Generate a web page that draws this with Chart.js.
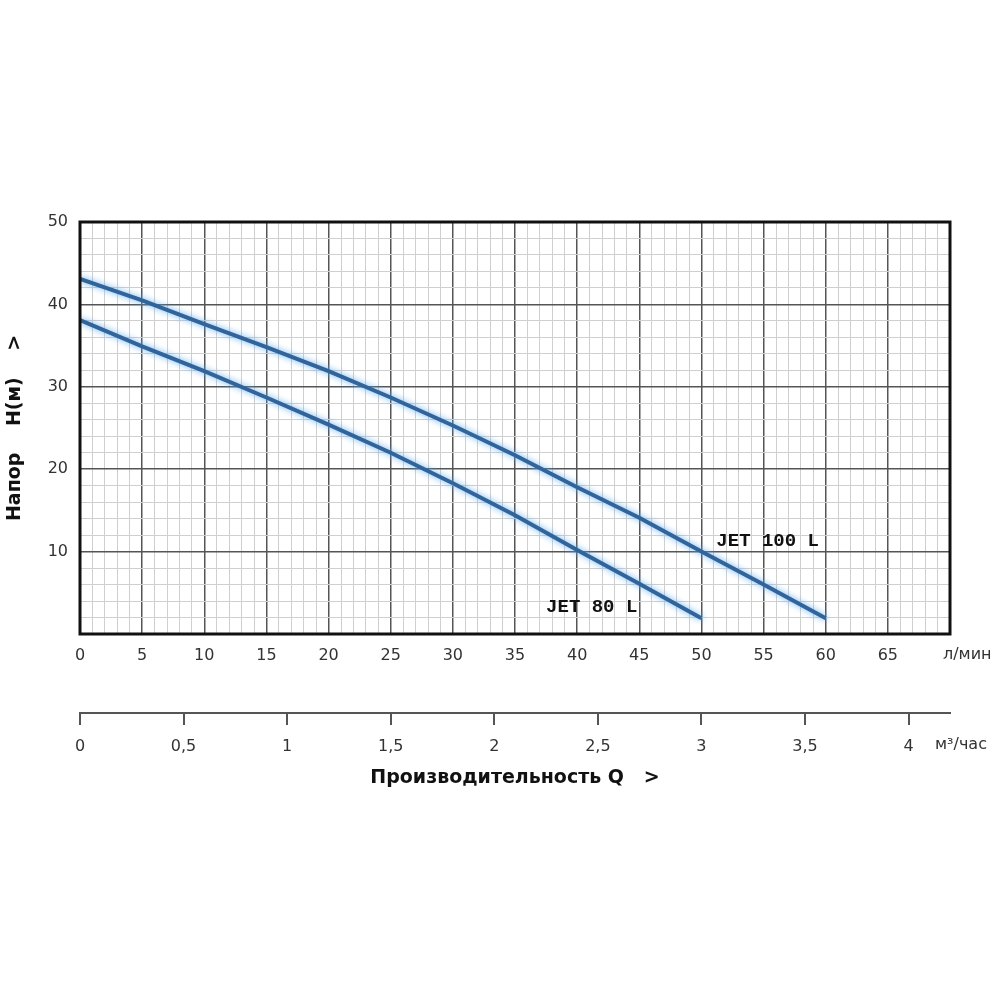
<!DOCTYPE html>
<html>
<head>
<meta charset="utf-8">
<title>JET pump curves</title>
<script src="https://cdn.jsdelivr.net/npm/chart.js@4/dist/chart.umd.min.js"></script>
<style>
  html, body { margin: 0; padding: 0; background: #fff; }
  #wrap { width: 1000px; height: 1000px; position: relative; }
</style>
</head>
<body>
<div id="wrap"><canvas id="pumpChart"></canvas></div>
<script>
// flow in l/min, head in metres
const flow100 = [0, 5, 10, 15, 20, 25, 30, 35, 40, 45, 50, 55, 60];
const head100 = [43.1, 40.5, 37.6, 34.8, 31.9, 28.7, 25.3, 21.7, 17.8, 14.1, 10.0, 6.0, 1.9];
const flow80 = [0, 5, 10, 15, 20, 25, 30, 35, 40, 45, 50];
const head80 = [38.1, 34.9, 31.9, 28.7, 25.4, 22.0, 18.3, 14.4, 10.2, 6.1, 1.9];

const seriesNames = ["JET 100 L", "JET 80 L"];
const unitFlow = "л/мин";
const unitVolume = "м³/час";
const yTitle = "Напор    H(м)    >";
const xTitle = "Производительность Q   >";

const lineColor = "#30649a";
const tickFont = { family: "DejaVu Sans", size: 16 };

function toPoints(xs, ys) {
    return xs.map((x, i) => ({ x: x, y: ys[i] }));
}

// light blue glow round the curves, like the blurred gif
const glowPlugin = {
    id: "glow",
    beforeDatasetsDraw(chart) {
        chart.ctx.save();
        chart.ctx.shadowColor = "rgba(90,170,240,0.95)";
        chart.ctx.shadowBlur = 6;
    },
    afterDatasetsDraw(chart) {
        chart.ctx.restore();
    }
};

// frame, unit names and curve labels
const extrasPlugin = {
    id: "extras",
    afterDraw(chart) {
        let ctx = chart.ctx;
        let area = chart.chartArea;
        let x = chart.scales.x;
        let y = chart.scales.y;
        let x2 = chart.scales.x2;

        ctx.save();
        ctx.strokeStyle = "#111";
        ctx.lineWidth = 3;
        ctx.strokeRect(area.left, area.top, area.right - area.left, area.bottom - area.top);

        ctx.fillStyle = "#333";
        ctx.font = "16px 'DejaVu Sans'";
        ctx.textAlign = "left";
        ctx.textBaseline = "middle";
        ctx.fillText(unitFlow, area.right - 7, area.bottom + 21);
        ctx.fillText(unitVolume, area.right - 15, x2.top + 32);

        ctx.fillStyle = "#111";
        ctx.font = "bold 19px 'Liberation Mono'";
        ctx.fillText(seriesNames[0], x.getPixelForValue(51.2), y.getPixelForValue(11.2));
        ctx.fillText(seriesNames[1], x.getPixelForValue(37.5), y.getPixelForValue(3.3));
        ctx.restore();
    }
};

new Chart(document.getElementById("pumpChart"), {
    type: "line",
    data: {
        datasets: [
            { label: seriesNames[0], data: toPoints(flow100, head100) },
            { label: seriesNames[1], data: toPoints(flow80, head80) }
        ]
    },
    options: {
        responsive: true,
        maintainAspectRatio: false,
        animation: false,
        layout: { padding: { top: 222, right: 50, bottom: 207, left: 0 } },
        elements: {
            line: { borderColor: lineColor, borderWidth: 4, tension: 0, fill: false },
            point: { radius: 0 }
        },
        plugins: {
            legend: { display: false },
            tooltip: { enabled: false }
        },
        scales: {
            x: {
                type: "linear",
                position: "bottom",
                weight: 0,
                min: 0,
                max: 70,
                afterFit: s => { s.height = 79; },
                border: { display: false },
                grid: {
                    drawTicks: false,
                    color: c => c.tick.value % 5 === 0 ? "#555" : "#cfcfcf",
                    lineWidth: c => c.tick.value % 5 === 0 ? 1.5 : 1
                },
                ticks: {
                    stepSize: 1,
                    autoSkip: false,
                    maxRotation: 0,
                    padding: 12,
                    color: "#333",
                    font: tickFont,
                    callback: v => (v % 5 === 0 && v < 70) ? String(v) : ""
                }
            },
            x2: {
                type: "linear",
                position: "bottom",
                weight: 1,
                min: 0,
                max: 4.2,
                afterFit: s => { s.height = 80; },
                border: { display: true, color: "#555", width: 2 },
                grid: {
                    drawOnChartArea: false,
                    drawTicks: true,
                    tickLength: 12,
                    color: "#555",
                    lineWidth: 2
                },
                ticks: {
                    stepSize: 0.5,
                    includeBounds: false,
                    autoSkip: false,
                    maxRotation: 0,
                    padding: 12,
                    color: "#333",
                    font: tickFont,
                    callback: v => String(v).replace(".", ",")
                },
                title: {
                    display: true,
                    text: xTitle,
                    color: "#111",
                    font: { family: "DejaVu Sans", size: 19, weight: "bold" },
                    padding: { top: 0, bottom: 4 }
                }
            },
            y: {
                min: 0,
                max: 50,
                afterFit: s => { s.width = 80; },
                border: { display: false },
                grid: {
                    drawTicks: false,
                    color: c => c.tick.value % 10 === 0 ? "#555" : "#cfcfcf",
                    lineWidth: c => c.tick.value % 10 === 0 ? 1.5 : 1
                },
                ticks: {
                    stepSize: 2,
                    autoSkip: false,
                    padding: 12,
                    color: "#333",
                    font: tickFont,
                    callback: v => (v % 10 === 0 && v > 0) ? String(v) : ""
                },
                title: {
                    display: true,
                    text: yTitle,
                    color: "#111",
                    font: { family: "DejaVu Sans", size: 19, weight: "bold" }
                }
            }
        }
    },
    plugins: [glowPlugin, extrasPlugin]
});
</script>
</body>
</html>
